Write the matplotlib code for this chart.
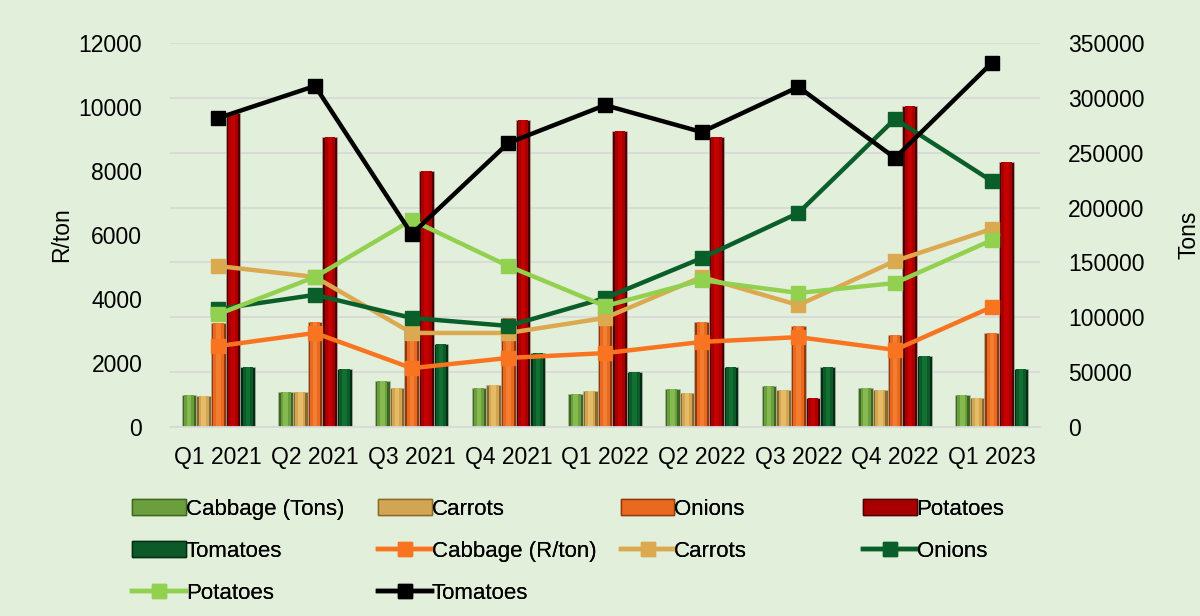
import numpy as np
import matplotlib.pyplot as plt
from matplotlib.patches import Patch
from matplotlib.lines import Line2D

plt.rcParams['font.family'] = ['Liberation Sans', 'DejaVu Sans']

quarters = ["Q1 2021", "Q2 2021", "Q3 2021", "Q4 2021", "Q1 2022",
            "Q2 2022", "Q3 2022", "Q4 2022", "Q1 2023"]

# volumes (tons) - bars, right axis
cabbage_t = [29200, 31900, 41900, 35500, 30100, 34600, 37400, 35500, 29200]
carrots_t = [28300, 31900, 35500, 38300, 32800, 31000, 33700, 33700, 26400]
onions_t = [94800, 95700, 88400, 99300, 97500, 95700, 92100, 83900, 85700]
potatoes_t = [286200, 264300, 233300, 279800, 269800, 264300, 26400, 292600, 241500]
tomatoes_t = [54700, 52900, 75700, 67400, 50100, 54700, 54700, 64700, 52900]

# prices (R/ton) - lines, left axis
cabbage_p = [2530, 2940, 1840, 2160, 2310, 2660, 2810, 2410, 3750]
carrots_p = [5030, 4690, 2940, 2940, 3410, 4690, 3810, 5190, 6190]
onions_p = [3690, 4130, 3410, 3160, 4030, 5280, 6690, 9630, 7690]
potatoes_p = [3530, 4690, 6470, 5030, 3780, 4590, 4190, 4500, 5840]
tomatoes_p = [9660, 10660, 6030, 8880, 10060, 9220, 10630, 8410, 11380]

# name, values, main colour, dark side colour, light centre colour
bar_series = [("Cabbage (Tons)", cabbage_t, '#6b9e3c', '#3d6620', '#86b950'),
              ("Carrots", carrots_t, '#d2a552', '#8a6a2a', '#e6bb66'),
              ("Onions", onions_t, '#e8691f', '#8e3a0b', '#f47e30'),
              ("Potatoes", potatoes_t, '#a80000', '#4e0000', '#c40000'),
              ("Tomatoes", tomatoes_t, '#0b5a27', '#032d12', '#137033')]
line_series = [("Cabbage (R/ton)", cabbage_p, '#f97420'),
               ("Carrots", carrots_p, '#dba94f'),
               ("Onions", onions_p, '#0a5e2a'),
               ("Potatoes", potatoes_p, '#92d050'),
               ("Tomatoes", tomatoes_p, '#000000')]

fig = plt.figure(figsize=(12, 6.16), dpi=100)
fig.patch.set_facecolor('#e2efda')
ax = fig.add_axes([0.1417, 0.3068, 0.725, 0.6232])
ax2 = ax.twinx()
ax.set_zorder(ax2.get_zorder() + 1)
ax.patch.set_visible(False)
ax2.patch.set_facecolor('white')

x = np.arange(len(quarters))
w = 0.152
bar_handles = []
for i, (name, vals, col, dark, light) in enumerate(bar_series):
    pos = x + (i - 2) * w
    ax2.bar(pos, vals, width=w, color=dark, edgecolor='#bbbbbb', linewidth=0.4)
    ax2.bar(pos, vals, width=w * 0.7, color=col, linewidth=0)
    ax2.bar(pos, vals, width=w * 0.3, color=light, linewidth=0)
    bar_handles.append(Patch(facecolor=col, edgecolor=dark, label=name))

line_handles = []
for name, vals, col in line_series:
    ax.plot(x, vals, color=col, linewidth=3.2, marker='s', markersize=10)
    line_handles.append(Line2D([], [], color=col, linewidth=3.2, marker='s',
                               markersize=10, label=name))

ax.set_xlim(-0.5, len(quarters) - 0.5)
ax.set_ylim(0, 12000)
ax.set_yticks(range(0, 12001, 2000))
ax2.set_ylim(0, 350000)
ax2.set_yticks(range(0, 350001, 50000))
ax2.yaxis.grid(True, color='#d9d9d9', linewidth=1.3)
ax2.set_axisbelow(True)
ax.set_xticks(x)
ax.set_xticklabels(quarters)

for a in (ax, ax2):
    for s in a.spines.values():
        s.set_visible(False)
    a.tick_params(length=0, labelsize=16.5)
ax2.spines['bottom'].set_visible(True)
ax2.spines['bottom'].set_color('#d9d9d9')
ax2.spines['bottom'].set_linewidth(1.3)
ax.tick_params(axis='y', pad=20)
ax2.tick_params(axis='y', pad=20)
ax.tick_params(axis='x', pad=14)

ax.set_ylabel("R/ton", fontsize=16.5, labelpad=4)
ax2.set_ylabel("Tons", fontsize=16.5, labelpad=24)

cols = [[bar_handles[0], bar_handles[4], line_handles[3]],
        [bar_handles[1], line_handles[0], line_handles[4]],
        [bar_handles[2], line_handles[1]],
        [bar_handles[3], line_handles[2]]]
xs = [0.103, 0.308, 0.510, 0.712]
for cx, hs in zip(xs, cols):
    leg = fig.legend(handles=hs, loc='upper left', bbox_to_anchor=(cx, 0.205),
                     frameon=False, fontsize=16, handlelength=2.4,
                     handletextpad=0.0, labelspacing=0.95, borderaxespad=0)
    fig.add_artist(leg)

fig.savefig("out.png", dpi=100, facecolor=fig.get_facecolor())
